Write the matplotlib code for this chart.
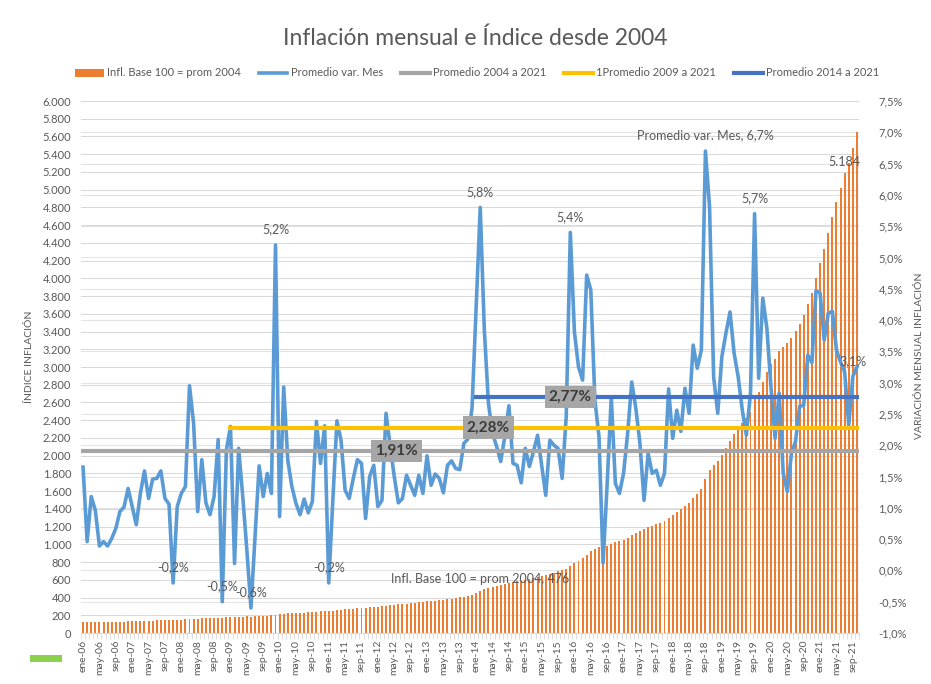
import matplotlib.pyplot as plt
import numpy as np
from matplotlib.lines import Line2D
from matplotlib.patches import Rectangle

plt.rcParams['font.family'] = ['Lato', 'DejaVu Sans']

# --- datos -----------------------------------------------------------------
meses = ['ene', 'feb', 'mar', 'abr', 'may', 'jun', 'jul', 'ago', 'sep', 'oct', 'nov', 'dic']
fechas = [f'{meses[i % 12]}-{6 + i // 12:02d}' for i in range(190)]  # ene-06 .. oct-21

# indice inflacion, base 100 = promedio 2004
indice = [
    120, 121, 122, 123, 124, 124, 125, 125, 126, 127,
    129, 130, 132, 133, 134, 136, 138, 140, 142, 144,
    146, 148, 147, 149, 151, 153, 157, 161, 162, 165,
    167, 168, 170, 174, 173, 176, 181, 181, 184, 186,
    187, 186, 187, 190, 192, 195, 198, 208, 210, 216,
    220, 223, 225, 227, 230, 232, 234, 240, 244, 249,
    249, 252, 258, 263, 267, 270, 274, 278, 283, 286,
    290, 295, 298, 301, 309, 315, 320, 323, 327, 332,
    336, 340, 345, 350, 356, 361, 366, 372, 376, 383,
    389, 396, 402, 410, 419, 430, 448, 476, 492, 505,
    516, 527, 536, 547, 562, 571, 581, 589, 601, 611,
    622, 636, 646, 654, 668, 681, 694, 705, 722, 761,
    790, 816, 841, 880, 920, 945, 965, 966, 980, 1007,
    1021, 1033, 1049, 1072, 1105, 1133, 1156, 1169, 1191, 1209,
    1229, 1245, 1265, 1301, 1329, 1363, 1393, 1434, 1470, 1523,
    1572, 1627, 1736, 1837, 1894, 1941, 2007, 2083, 2169, 2245,
    2314, 2373, 2425, 2493, 2635, 2716, 2834, 2944, 3030, 3094,
    3181, 3231, 3271, 3332, 3401, 3490, 3582, 3706, 3829, 4000,
    4177, 4331, 4509, 4695, 4860, 5022, 5184, 5302, 5466, 5651,
]

# variacion mensual (%)
variacion = [
    1.65, 0.46, 1.18, 0.96, 0.39, 0.46, 0.39, 0.51, 0.67, 0.94,
    1.01, 1.31, 1.02, 0.73, 1.23, 1.59, 1.15, 1.46, 1.47, 1.59,
    1.15, 1.06, -0.2, 1.02, 1.23, 1.34, 2.95, 2.35, 0.94, 1.77,
    1.08, 0.89, 1.18, 2.09, -0.5, 1.92, 2.30, 0.11, 1.95, 1.18,
    0.33, -0.6, 0.54, 1.67, 1.18, 1.55, 1.23, 5.2, 0.86, 2.93,
    1.76, 1.34, 1.07, 0.89, 1.14, 0.92, 1.10, 2.38, 1.71, 2.31,
    -0.2, 1.12, 2.39, 2.08, 1.28, 1.15, 1.47, 1.77, 1.71, 0.83,
    1.50, 1.68, 1.02, 1.12, 2.51, 1.99, 1.50, 1.08, 1.15, 1.52,
    1.36, 1.20, 1.52, 1.23, 1.83, 1.36, 1.54, 1.47, 1.24, 1.68,
    1.75, 1.63, 1.61, 2.03, 2.10, 2.60, 4.20, 5.80, 3.84, 2.67,
    2.19, 1.98, 1.74, 2.14, 2.63, 1.71, 1.68, 1.40, 1.95, 1.66,
    1.90, 2.16, 1.68, 1.20, 2.08, 2.00, 1.95, 1.47, 2.46, 5.40,
    3.81, 3.25, 3.04, 4.72, 4.48, 2.72, 2.14, 0.12, 1.39, 2.77,
    1.39, 1.23, 1.55, 2.19, 3.01, 2.59, 2.03, 1.12, 1.87, 1.55,
    1.60, 1.36, 1.55, 2.90, 2.11, 2.56, 2.22, 2.91, 2.51, 3.60,
    3.23, 3.52, 6.70, 5.81, 3.09, 2.51, 3.41, 3.79, 4.13, 3.47,
    3.09, 2.56, 2.16, 2.83, 5.70, 3.07, 4.35, 3.87, 2.93, 2.11,
    2.83, 1.55, 1.26, 1.87, 2.06, 2.62, 2.64, 3.44, 3.32, 4.47,
    4.43, 3.68, 4.11, 4.14, 3.52, 3.33, 3.17, 2.32, 3.10, 3.25,
]

promedios = [1.91, 2.28, 2.77]
desde = ['ene-06', 'ene-09', 'ene-14']
nombres_prom = ['Promedio 2004 a 2021', '1Promedio 2009 a 2021', 'Promedio 2014 a 2021']
colores_prom = ['#A5A5A5', '#FFC000', '#4472C4']
pos_etiqueta_prom = [76.5, 99, 119]

etiquetas_linea = ['nov-07', 'nov-08', 'jun-09', 'dic-09', 'ene-11',
                   'feb-14', 'dic-15', 'sep-18', 'sep-19', 'sep-21']
etiquetas_barra = ['feb-14', 'jul-21']

gris_txt = '#595959'


def pct(v):
    return f'{v:.1f}%'.replace('.', ',')


x = np.arange(len(fechas))

fig = plt.figure(figsize=(9.31, 6.84), dpi=100)
ax = fig.add_axes([81 / 931, 1 - 633 / 684, 778 / 931, 532 / 684])
ax2 = ax.twinx()

# barras del indice
ax.bar(x, indice, width=0.48, color='#ED7D31', zorder=2, label='Infl. Base 100 = prom 2004')
ax.set_xlim(-0.5, len(fechas) - 0.5)
ax.set_ylim(0, 6000)
ticks_izq = np.arange(0, 6001, 200)
ax.set_yticks(ticks_izq)
ax.set_yticklabels([f'{v:,.0f}'.replace(',', '.') for v in ticks_izq])
ax.grid(axis='y', color='#D9D9D9', lw=0.75, zorder=0)
ax.set_axisbelow(True)

# variacion mensual y promedios
ax2.plot(x, variacion, color='#5B9BD5', lw=2.6, solid_joinstyle='round', label='Promedio var. Mes', zorder=3)
for p, d, n, c, xe in zip(promedios, desde, nombres_prom, colores_prom, pos_etiqueta_prom):
    i0 = fechas.index(d)
    ax2.plot([x[i0], x[-1]], [p, p], color=c, lw=3, label=n, zorder=4)
    ax2.text(xe, p, f'{p:.2f}%'.replace('.', ','),
             ha='center', va='center', fontsize=11, fontweight='bold', color='#3A3A3A', zorder=6,
             bbox=dict(boxstyle='square,pad=0.28', facecolor='#A6A6A6', edgecolor='none'))
ax2.set_ylim(-1, 7.5)
ticks_der = np.arange(-1, 7.51, 0.5)
ax2.set_yticks(ticks_der)
ax2.set_yticklabels([pct(v) for v in ticks_der])

# grilla del eje secundario, detras de las barras
for v in ticks_der:
    ax.add_artist(Line2D([0, 1], [v, v], transform=ax2.get_yaxis_transform(),
                         color='#E3E3E3', lw=0.75, zorder=0.5))

# etiquetas de datos
for f in etiquetas_linea:
    i = fechas.index(f)
    txt = pct(variacion[i])
    if f == 'sep-18':
        txt = 'Promedio var. Mes, ' + txt
    ax2.annotate(txt, (x[i], variacion[i]), xytext=(0, 7), textcoords='offset points',
                 ha='center', va='bottom', fontsize=9, color=gris_txt, zorder=7)
for f in etiquetas_barra:
    i = fechas.index(f)
    txt = f'{indice[i]:,}'.replace(',', '.')
    if f == 'feb-14':
        txt = 'Infl. Base 100 = prom 2004, ' + txt
    ax.annotate(txt, (x[i], indice[i]), xytext=(0, 4), textcoords='offset points',
                ha='center', va='bottom', fontsize=9, color=gris_txt)

# ejes
ax.set_xticks(x[::4])
ax.set_xticklabels(fechas[::4], rotation=90)
ax.set_xticks(np.arange(-0.5, len(fechas)), minor=True)
ax.tick_params(axis='x', which='major', length=0, pad=5, labelsize=7.5, labelcolor=gris_txt)
ax.tick_params(axis='x', which='minor', length=4, color='#D9D9D9')
ax.tick_params(axis='y', length=0, pad=7, labelsize=8, labelcolor=gris_txt)
ax2.tick_params(axis='y', length=0, pad=14, labelsize=8, labelcolor=gris_txt)
for s in ['top', 'left', 'right']:
    ax.spines[s].set_visible(False)
    ax2.spines[s].set_visible(False)
ax.spines['bottom'].set_color('#D9D9D9')
ax2.spines['bottom'].set_visible(False)

fig.text(30 / 931, 1 - 357 / 684, 'ÍNDICE INFLACIÓN', rotation=90, ha='center', va='center',
         fontsize=7.5, color=gris_txt)
fig.text(919 / 931, 1 - 356 / 684, 'VARIACIÓN MENSUAL INFLACIÓN', rotation=90, ha='center', va='center',
         fontsize=7.5, color=gris_txt)

fig.text(475 / 931, 1 - 38 / 684, 'Inflación mensual e Índice desde 2004', ha='center', va='center',
         fontsize=16.5, color=gris_txt)

h1, l1 = ax.get_legend_handles_labels()
h2, l2 = ax2.get_legend_handles_labels()
fig.legend(h1 + h2, l1 + l2, ncol=5, loc='center', bbox_to_anchor=(477 / 931, 1 - 73 / 684),
           frameon=False, fontsize=8, handlelength=2.6, handletextpad=0.3, columnspacing=1.6,
           labelcolor=gris_txt)

# marca verde suelta abajo a la izquierda
fig.patches.append(Rectangle((30 / 931, 1 - 662 / 684), 32 / 931, 7 / 684, transform=fig.transFigure,
                             facecolor='#8CD050', edgecolor='none'))

fig.savefig('out.png', dpi=100, facecolor='white')
